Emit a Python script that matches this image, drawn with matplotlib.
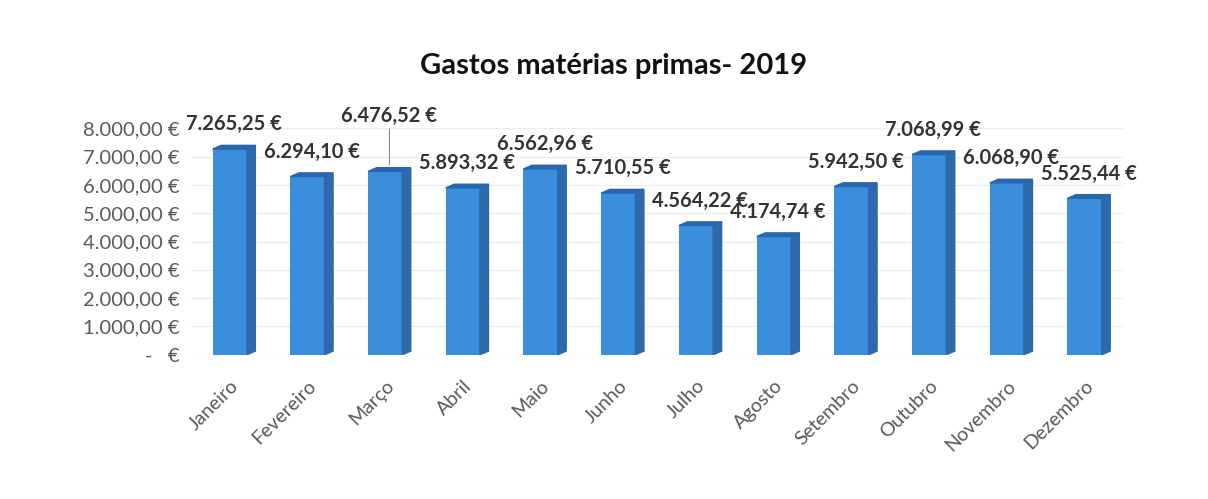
import matplotlib
matplotlib.use("Agg")
import matplotlib.pyplot as plt
from matplotlib.patches import Polygon

meses = ["Janeiro", "Fevereiro", "Março", "Abril", "Maio", "Junho",
         "Julho", "Agosto", "Setembro", "Outubro", "Novembro", "Dezembro"]
gastos = [7265.25, 6294.10, 6476.52, 5893.32, 6562.96, 5710.55,
          4564.22, 4174.74, 5942.50, 7068.99, 6068.90, 5525.44]
ticks_y = [0, 1000, 2000, 3000, 4000, 5000, 6000, 7000, 8000]


def euro(v):
    # formato portugues: 7.265,25 €
    if v == 0:
        return "-   €"
    s = f"{v:,.2f}".replace(",", "X").replace(".", ",").replace("X", ".")
    return s + " €"


plt.rcParams['font.family'] = ['Lato', 'DejaVu Sans']

fig = plt.figure(figsize=(12.08, 4.99), dpi=100)
ax = fig.add_axes([0.158, 0.289, 0.772, 0.454])

largura = 0.44
prof = 0.11      # profundidade lateral (unidades x)
subida = 130     # subida da face de cima (unidades y)
frente = "#3b8edb"
lado = "#2d6aab"
topo = "#2a66ad"

x = list(range(len(meses)))
ax.bar(x, gastos, width=largura, color=frente, zorder=3)

for xi, v in zip(x, gastos):
    d = xi + largura / 2
    e = xi - largura / 2
    ax.add_patch(Polygon([(d, 0), (d + prof, subida), (d + prof, v + subida), (d, v)],
                         closed=True, color=lado, zorder=3))
    ax.add_patch(Polygon([(e, v), (d, v), (d + prof, v + subida), (e + prof, v + subida)],
                         closed=True, color=topo, zorder=3))

# rotulos de dados
for xi, v, m in zip(x, gastos, meses):
    off = 30 if m == "Março" else 8
    ax.annotate(euro(v), (xi + prof / 2, v + subida), xytext=(0, off),
                textcoords="offset points", ha="center", va="bottom",
                fontsize=14.5, fontweight="bold", color="#333333", zorder=5)
    if m == "Março":
        ax.annotate("", (xi + prof / 2, v + subida), xytext=(0, 30),
                    textcoords="offset points",
                    arrowprops=dict(arrowstyle="-", color="#888888", lw=0.8))

ax.set_xlim(-0.5, len(meses) - 0.5)
ax.set_ylim(0, 8000)
ax.set_yticks(ticks_y)
ax.set_yticklabels([euro(t) for t in ticks_y], fontsize=14.5, color="#595959")
ax.set_xticks(x)
ax.set_xticklabels(meses, rotation=45, ha="right", rotation_mode="anchor",
                   fontsize=14, color="#595959")
ax.tick_params(axis="y", length=0, pad=8)
ax.tick_params(axis="x", length=0, pad=16)
ax.yaxis.grid(True, color="#ececec", lw=0.8, zorder=0)
for s in ax.spines.values():
    s.set_visible(False)

fig.text(0.508, 0.868, "Gastos matérias primas- 2019", ha="center", va="center",
         fontsize=21, fontweight="bold", color="#111111")

fig.savefig("out.png", dpi=100)
